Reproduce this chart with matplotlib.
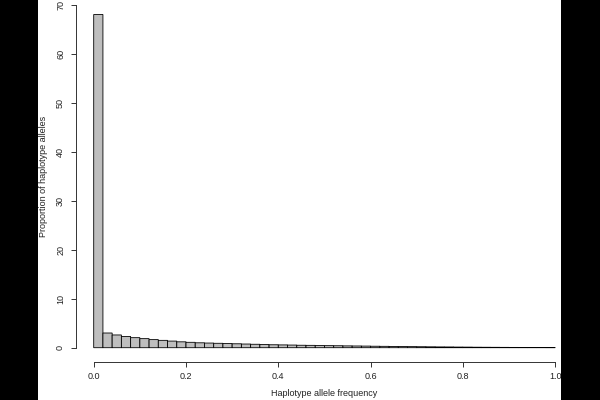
import matplotlib
matplotlib.use("Agg")
import matplotlib.pyplot as plt
from matplotlib.patches import Rectangle
import numpy as np

bin_width = 0.02
proportions = [68.0, 3.0, 2.6, 2.3, 2.05, 1.85, 1.65, 1.5, 1.35, 1.2,
               1.1, 1.0, 0.95, 0.9, 0.85, 0.8, 0.75, 0.7, 0.65, 0.6,
               0.57, 0.54, 0.5, 0.48, 0.45, 0.42, 0.4, 0.37, 0.35, 0.33,
               0.3, 0.28, 0.26, 0.24, 0.22, 0.2, 0.18, 0.16, 0.15, 0.13,
               0.12, 0.1, 0.09, 0.08, 0.07, 0.06, 0.05, 0.04, 0.03, 0.02]
x_ticks = [0.0, 0.2, 0.4, 0.6, 0.8, 1.0]
x_ticklabels = ["0.0", "0.2", "0.4", "0.6", "0.8", "1.0"]
y_ticks = [0, 10, 20, 30, 40, 50, 60, 70]
xlabel = "Haplotype allele frequency"
ylabel = "Proportion of haplotype alleles"

plt.rcParams['font.family'] = ['Liberation Sans', 'DejaVu Sans']

W, H = 600, 400
fig = plt.figure(figsize=(6, 4), dpi=100, facecolor='black')
fig.add_artist(Rectangle((38 / W, 0), (561 - 38) / W, 1, transform=fig.transFigure,
                         facecolor='white', edgecolor='none', zorder=-5))

x0, x1 = 93.7, 555.2
y0, y1 = 347.7, 4.7
ax = fig.add_axes([x0 / W, 1 - y0 / H, (x1 - x0) / W, (y0 - y1) / H])
ax.set_facecolor('none')
ax.set_xlim(0, 1)
ax.set_ylim(0, 70)

edges = np.arange(len(proportions)) * bin_width
bars = ax.bar(edges, proportions, width=bin_width, align='edge', color='#BEBEBE',
              edgecolor='black', linewidth=0.6, clip_on=False)
for b in bars:
    b.set_snap(False)

for s in ['top', 'right']:
    ax.spines[s].set_visible(False)
ax.spines['left'].set_position(('outward', 13))
ax.spines['bottom'].set_position(('outward', 10))
ax.spines['left'].set_bounds(0, 70)
ax.spines['bottom'].set_bounds(0, 1)
for s in ['left', 'bottom']:
    ax.spines[s].set_linewidth(0.7)
    ax.spines[s].set_color('#333333')

ax.set_xticks(x_ticks)
ax.set_xticklabels(x_ticklabels)
ax.set_yticks(y_ticks)
ax.set_yticklabels([str(v) for v in y_ticks], rotation=90, va='center')
ax.tick_params(axis='both', direction='out', length=3.6, width=0.7,
               color='#333333', labelsize=6.5, labelcolor='#222222', pad=4)

fig.text(((x0 + x1) / 2) / W, 1 - 394 / H, xlabel, ha='center', va='center',
         fontsize=6.5, color='#222222')
fig.text(43 / W, 1 - ((y0 + y1) / 2) / H, ylabel, ha='center', va='center',
         rotation=90, fontsize=6.5, color='#222222')

fig.add_artist(Rectangle((561 / W, 0), 1 - 561 / W, 1, transform=fig.transFigure,
                         facecolor='black', edgecolor='none', zorder=10))
fig.add_artist(Rectangle((0, 0), 38 / W, 1, transform=fig.transFigure,
                         facecolor='black', edgecolor='none', zorder=10))

fig.savefig('out.png', dpi=100, facecolor='black')
